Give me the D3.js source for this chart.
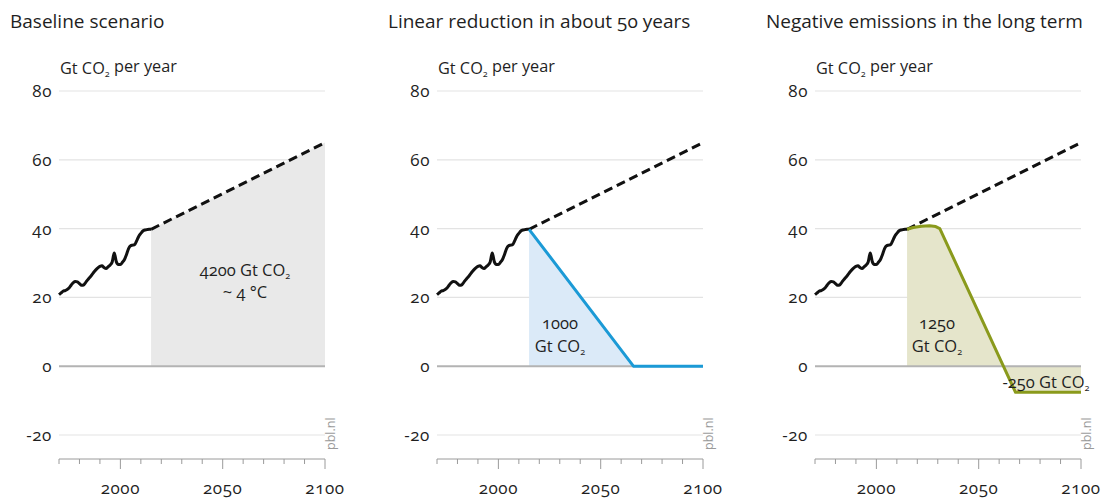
<!DOCTYPE html>
<html><head><meta charset="utf-8">
<script src="https://cdn.jsdelivr.net/npm/d3@7"></script>
<style>
body{margin:0;background:#fff}
text{font-family:"Open Sans","Noto Sans",sans-serif;font-variant-numeric:oldstyle-nums;font-feature-settings:"onum" 1;fill:#1f1f1f}
</style></head><body>
<svg id="chart" width="1103" height="498"></svg>
<script>
// ---------- data ----------
const histYears = [1970,1971,1972,1973,1974,1975,1976,1977,1978,1979,1980,1981,1982,1983,1984,1985,1986,1987,1988,1989,1990,1991,1992,1993,1994,1995,1996,1997,1998,1999,2000,2001,2002,2003,2004,2005,2006,2007,2008,2009,2010,2011,2012,2013,2014,2015];
const histValues = [20.8,21.3,21.8,22.0,22.3,22.8,23.6,24.3,24.6,24.5,24.0,23.5,23.6,24.3,25.1,25.8,26.5,27.3,28.0,28.6,29.0,29.2,28.7,28.4,28.9,29.4,30.3,32.9,30.4,29.6,29.6,30.2,31.0,32.5,34.2,35.0,35.2,35.4,36.5,37.8,38.6,39.3,39.6,39.7,39.8,39.8];
const baseYears = [2015,2100];
const baseValues = [39.8,65];
const linYears = [2015,2066,2100];
const linValues = [39.8,0,0];
const negYears = [2015,2018,2022,2026,2029,2031,2068,2100];
const negValues = [39.8,40.3,40.7,40.8,40.6,40.0,-7.6,-7.6];
const panelTitles = ["Baseline scenario","Linear reduction in about 50 years","Negative emissions in the long term"];
const yTicks = [-20,0,20,40,60,80];
const xMinorTicks = [1970,1980,1990,2000,2010,2020,2030,2040,2050,2060,2070,2080,2090,2100];
const xMajorTicks = [2000,2050,2100];

// ---------- layout ----------
const svg = d3.select("#chart");
const offsets = [0,378,756];
const x = d3.scaleLinear().domain([1970,2100]).range([59,325]);
const y = d3.scaleLinear().domain([-20,80]).range([435,91]);
const axisY = 459;
const fs = 16.5;

const toPts = (ys, vs) => ys.map((d,i)=>({yr:d, v:vs[i]}));
const line = d3.line().x(d=>x(d.yr)).y(d=>y(d.v));
const area = d3.area().x(d=>x(d.yr)).y0(y(0)).y1(d=>y(d.v));

const scen = [
  null,
  {pts: toPts(linYears,linValues), stroke:"#1b9ad6", fill:"#dbeaf8"},
  {pts: toPts(negYears,negValues), stroke:"#8a9a1c", fill:"#e5e5cb"}
];

function co2(t, prefix){
  t.append("tspan").text(prefix + "Gt CO");
  t.append("tspan").attr("font-size","0.55em").attr("dy","0.3em").text("2");
}

offsets.forEach((off, pi) => {
  const g = svg.append("g").attr("transform", `translate(${off},0)`);
  // title
  g.append("text").attr("x",10).attr("y",28).attr("font-size",19).text(panelTitles[pi]);
  // unit
  const u = g.append("text").attr("x",60).attr("y",74).attr("font-size",16.3);
  u.append("tspan").text("Gt CO");
  u.append("tspan").attr("font-size","0.55em").attr("dy","0.3em").text("2");
  u.append("tspan").attr("dy","-0.3em").text(" per year");

  // gridlines
  g.selectAll(".grid").data(yTicks.filter(d=>d!==0)).join("line")
    .attr("x1",x(1970)).attr("x2",x(2100)).attr("y1",d=>y(d)).attr("y2",d=>y(d))
    .attr("stroke","#e3e3e3").attr("stroke-width",1.2);
  g.selectAll(".ylab").data(yTicks).join("text")
    .attr("x",52).attr("y",d=>y(d)).attr("dy","0.35em").attr("text-anchor","end")
    .attr("font-size",17).attr("letter-spacing",0.6).text(d=>d);

  // fills
  const basePts = toPts(baseYears, baseValues);
  if (pi===0) {
    g.append("path").attr("d", area(basePts)).attr("fill","#e9e9e9");
  } else {
    g.append("path").attr("d", area(scen[pi].pts)).attr("fill", scen[pi].fill);
  }
  // zero line
  g.append("line").attr("x1",x(1970)).attr("x2",x(2100)).attr("y1",y(0)).attr("y2",y(0))
    .attr("stroke","#b3b3b3").attr("stroke-width",2);

  // history
  g.append("path").attr("d", d3.line().x(d=>x(d.yr)).y(d=>y(d.v)).curve(d3.curveMonotoneX)(toPts(histYears,histValues)))
    .attr("fill","none").attr("stroke","#111").attr("stroke-width",3).attr("stroke-linejoin","round");
  // baseline dashed
  g.append("path").attr("d", line(basePts)).attr("fill","none").attr("stroke","#111")
    .attr("stroke-width",3).attr("stroke-dasharray","9,5");
  if (pi>0) {
    g.append("path").attr("d", line(scen[pi].pts))
      .attr("fill","none").attr("stroke",scen[pi].stroke).attr("stroke-width",3).attr("stroke-linejoin","round");
  }

  // labels
  if (pi===0) {
    const t = g.append("text").attr("x",245).attr("y",276).attr("text-anchor","middle").attr("font-size",fs);
    co2(t, "4200 ");
    g.append("text").attr("x",245).attr("y",298).attr("text-anchor","middle").attr("font-size",fs).text("~ 4 °C");
  } else if (pi===1) {
    g.append("text").attr("x",182).attr("y",329).attr("text-anchor","middle").attr("font-size",fs).text("1000");
    const t = g.append("text").attr("x",182).attr("y",352).attr("text-anchor","middle").attr("font-size",fs);
    co2(t, "");
  } else {
    g.append("text").attr("x",181).attr("y",329).attr("text-anchor","middle").attr("font-size",fs).text("1250");
    const t = g.append("text").attr("x",181).attr("y",352).attr("text-anchor","middle").attr("font-size",fs);
    co2(t, "");
    const t2 = g.append("text").attr("x",290).attr("y",388).attr("text-anchor","middle").attr("font-size",fs);
    co2(t2, "-250 ");
  }

  // x axis
  const ax = g.append("g").attr("transform",`translate(0,${axisY})`);
  ax.append("line").attr("x1",x(1970)).attr("x2",x(2100)).attr("stroke","#9a9a9a").attr("stroke-width",1);
  ax.selectAll(".mt").data(xMinorTicks).join("line")
    .attr("x1",d=>x(d)).attr("x2",d=>x(d)).attr("y1",0)
    .attr("y2",d=>xMajorTicks.includes(d)?10:5).attr("stroke","#9a9a9a");
  ax.selectAll(".xl").data(xMajorTicks).join("text")
    .attr("x",d=>x(d)).attr("y",35).attr("text-anchor","middle").attr("font-size",17).attr("letter-spacing",0.6).text(d=>d);

  // pbl.nl
  g.append("text").attr("transform",`translate(335,450) rotate(-90)`).attr("font-size",12.5)
    .style("fill","#9a9a9a").text("pbl.nl");
});
</script></body></html>
